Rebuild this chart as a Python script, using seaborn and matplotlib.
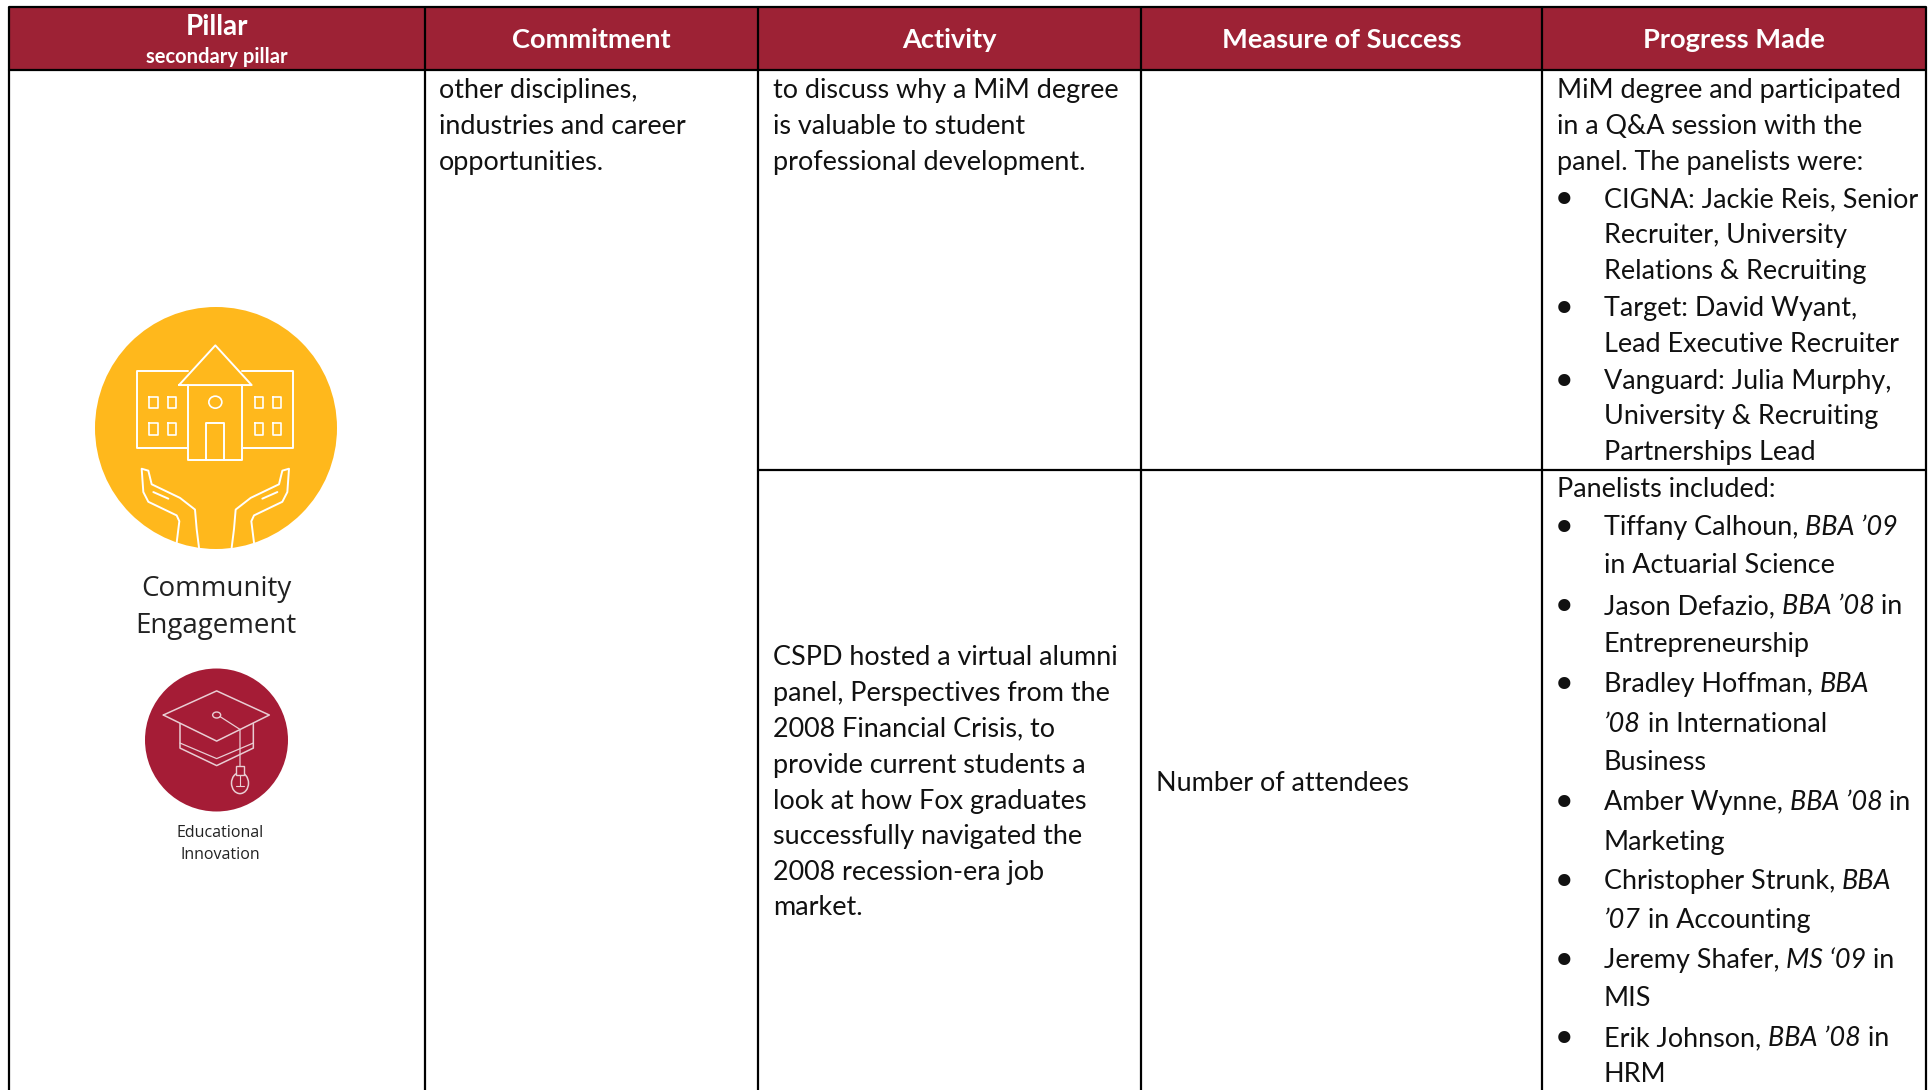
import matplotlib.pyplot as plt
from matplotlib.patches import Circle, Ellipse, Rectangle, Polygon
import seaborn as sns

sns.set_theme(style="white")
plt.rcParams['font.family'] = ['Lato', 'DejaVu Sans']

# table content
headers = ["Commitment", "Activity", "Measure of Success", "Progress Made"]
pillar_head = "Pillar"
pillar_sub = "secondary pillar"
pillar_main = ["Community", "Engagement"]
pillar_second = ["Educational", "Innovation"]

commitment_lines = ["other disciplines,", "industries and career", "opportunities."]
activity_top = ["to discuss why a MiM degree", "is valuable to student",
                "professional development."]
activity_bottom = ["CSPD hosted a virtual alumni", "panel, Perspectives from the",
                   "2008 Financial Crisis, to", "provide current students a",
                   "look at how Fox graduates", "successfully navigated the",
                   "2008 recession-era job", "market."]
measure_text = "Number of attendees"

# (segments, is bullet line); '*' prefix marks an italic segment
progress_lines = [
    (["MiM degree and participated"], 0),
    (["in a Q&A session with the"], 0),
    (["panel. The panelists were:"], 0),
    (["CIGNA: Jackie Reis, Senior"], 1),
    (["Recruiter, University"], 2),
    (["Relations & Recruiting"], 2),
    (["Target: David Wyant,"], 1),
    (["Lead Executive Recruiter"], 2),
    (["Vanguard: Julia Murphy,"], 1),
    (["University & Recruiting"], 2),
    (["Partnerships Lead"], 2),
    (["Panelists included:"], 0),
    (["Tiffany Calhoun, ", "*BBA ’09"], 1),
    (["in Actuarial Science"], 2),
    (["Jason Defazio, ", "*BBA ’08", " in"], 1),
    (["Entrepreneurship"], 2),
    (["Bradley Hoffman, ", "*BBA"], 1),
    (["*’08", " in International"], 2),
    (["Business"], 2),
    (["Amber Wynne, ", "*BBA ’08", " in"], 1),
    (["Marketing"], 2),
    (["Christopher Strunk, ", "*BBA"], 1),
    (["*’07", " in Accounting"], 2),
    (["Jeremy Shafer, ", "*MS ‘09", " in"], 1),
    (["MIS"], 2),
    (["Erik Johnson, ", "*BBA ’08", " in"], 1),
    (["HRM"], 2),
]

# layout, in reference pixels
col_x = [9, 425, 758, 1141, 1542, 1926]
header_top, header_bottom = 7, 70
split_y = 470
progress_y = [98, 134, 170, 207, 243, 279, 316, 352, 389, 424, 460,
              497, 535, 573, 614, 652, 692, 732, 770, 810, 850, 889, 928, 968, 1006, 1046, 1082]
commitment_y = [98, 134, 170]
activity_bottom_y = [665, 701, 736, 773, 809, 844, 880, 915]
measure_y = 791

body_size = 19.45
maroon = "#9D2235"
yellow = "#FFB81C"
red_icon = "#A51C36"
pink_line = "#E9CDD3"

fig, ax = plt.subplots(figsize=(19.33, 10.9), dpi=100)
fig.subplots_adjust(0, 0, 1, 1)
ax.set_xlim(0, 1933)
ax.set_ylim(1090, 0)
ax.axis("off")
sns.despine(ax=ax, left=True, bottom=True)
renderer = fig.canvas.get_renderer()


def seg_width(s, style):
    # trailing spaces are not measured, so measure against a marker
    a = ax.text(0, 0, s + "|", fontsize=body_size, style=style)
    b = ax.text(0, 0, "|", fontsize=body_size, style=style)
    w = a.get_window_extent(renderer).width - b.get_window_extent(renderer).width
    a.remove()
    b.remove()
    return w


def draw_line(x, y, segments):
    for seg in segments:
        style = "normal"
        if seg.startswith("*"):
            seg = seg[1:]
            style = "italic"
        ax.text(x, y, seg, fontsize=body_size, style=style, color="#111111", va="baseline")
        x += seg_width(seg, style)


# header band and grid
ax.add_patch(Rectangle((col_x[0], header_top), col_x[-1] - col_x[0], header_bottom - header_top,
                       facecolor=maroon, edgecolor="none"))
for x in col_x:
    ax.plot([x, x], [header_top, 1090], color="black", lw=1.6, solid_capstyle="butt")
ax.plot([col_x[0], col_x[-1]], [header_top, header_top], color="black", lw=1.6)
ax.plot([col_x[0], col_x[-1]], [header_bottom, header_bottom], color="black", lw=1.6)
ax.plot([col_x[2], col_x[-1]], [split_y, split_y], color="black", lw=1.6)

ax.text((col_x[0] + col_x[1]) / 2, 27, pillar_head, color="white", fontsize=20, fontweight="bold",
        ha="center", va="center")
ax.text((col_x[0] + col_x[1]) / 2, 57, pillar_sub, color="white", fontsize=14.5, fontweight="bold",
        ha="center", va="center")
for i, h in enumerate(headers):
    ax.text((col_x[i + 1] + col_x[i + 2]) / 2, 40, h, color="white", fontsize=19.6, fontweight="bold",
            ha="center", va="center")

# body text
for line, y in zip(commitment_lines, commitment_y):
    draw_line(439, y, [line])
for line, y in zip(activity_top, commitment_y):
    draw_line(773, y, [line])
for line, y in zip(activity_bottom, activity_bottom_y):
    draw_line(773, y, [line])
draw_line(1156, measure_y, [measure_text])

for (segments, kind), y in zip(progress_lines, progress_y):
    if kind == 1:
        ax.text(1564, y + 7, "•", fontsize=30, family="DejaVu Sans", color="#111111", ha="center", va="baseline")
    draw_line(1557 if kind == 0 else 1604, y, segments)


def pts(*coords):
    return [(x / 3, 280 + y / 2.57) for x, y in coords]


def outline(coords, color, lw=1.4, closed=False):
    p = pts(*coords)
    if closed:
        p = p + p[:1]
    ax.plot([c[0] for c in p], [c[1] for c in p], color=color, lw=lw,
            solid_joinstyle="round", zorder=4)


ax.add_patch(Circle((216, 428), 121, facecolor=yellow, edgecolor="none", zorder=3))
outline([(565, 235), (412, 235), (412, 432), (565, 432)], "white")
outline([(727, 235), (880, 235), (880, 432), (727, 432)], "white")
outline([(565, 270), (565, 462), (727, 462), (727, 270)], "white")
outline([(537, 270), (646, 168), (755, 270)], "white", closed=True)
outline([(618, 462), (618, 368), (672, 368), (672, 462)], "white")
ax.add_patch(Ellipse((646 / 3, 280 + 314 / 2.57), 13, 12, fill=False, edgecolor="white", lw=1.2, zorder=4))
for wx in [448, 503, 764, 818]:
    for wy in [300, 368]:
        outline([(wx, wy), (wx + 26, wy), (wx + 26, wy + 30), (wx, wy + 30)], "white", lw=1.2, closed=True)
hand = [(530, 675), (538, 620), (530, 605), (445, 570), (430, 545), (425, 485), (445, 490),
        (455, 525), (540, 560), (585, 590), (590, 640), (597, 688)]
thumb = [(460, 545), (505, 562)]
for shape in (hand, thumb):
    outline(shape, "white")
    outline([(1292 - x, y) for x, y in shape], "white")

ax.text(216, 589, pillar_main[0], family="Open Sans", fontsize=20, color="#222222", ha="center", va="center")
ax.text(216, 626, pillar_main[1], family="Open Sans", fontsize=20, color="#222222", ha="center", va="center")

ax.add_patch(Circle((216.5, 740), 71.5, facecolor=red_icon, edgecolor="none", zorder=3))
outline([(490, 1118), (650, 1056), (808, 1118), (650, 1185)], pink_line, lw=1.1, closed=True)
outline([(540, 1140), (540, 1203), (650, 1248), (760, 1203), (760, 1140)], pink_line, lw=1.1)
outline([(540, 1190), (650, 1230), (760, 1190)], pink_line, lw=0.9)
outline([(660, 1122), (720, 1155), (720, 1248)], pink_line, lw=0.9)
ax.add_patch(Ellipse((650 / 3, 280 + 1118 / 2.57), 8, 6, fill=False, edgecolor=pink_line, lw=1.0, zorder=4))
ax.add_patch(Ellipse((720 / 3, 280 + 1293 / 2.57), 17, 21, fill=False, edgecolor=pink_line, lw=1.1, zorder=4))
ax.add_patch(Polygon(pts((708, 1248), (732, 1248), (732, 1272), (708, 1272)), facecolor=red_icon,
                     edgecolor=pink_line, lw=1.0, zorder=5))
outline([(720, 1272), (720, 1300)], pink_line, lw=0.8)
outline([(708, 1300), (732, 1300)], pink_line, lw=0.8)

ax.text(220, 833, pillar_second[0], family="Open Sans", fontsize=11.5, color="#222222", ha="center", va="center")
ax.text(220, 855, pillar_second[1], family="Open Sans", fontsize=11.5, color="#222222", ha="center", va="center")

fig.savefig("out.png", dpi=100)
